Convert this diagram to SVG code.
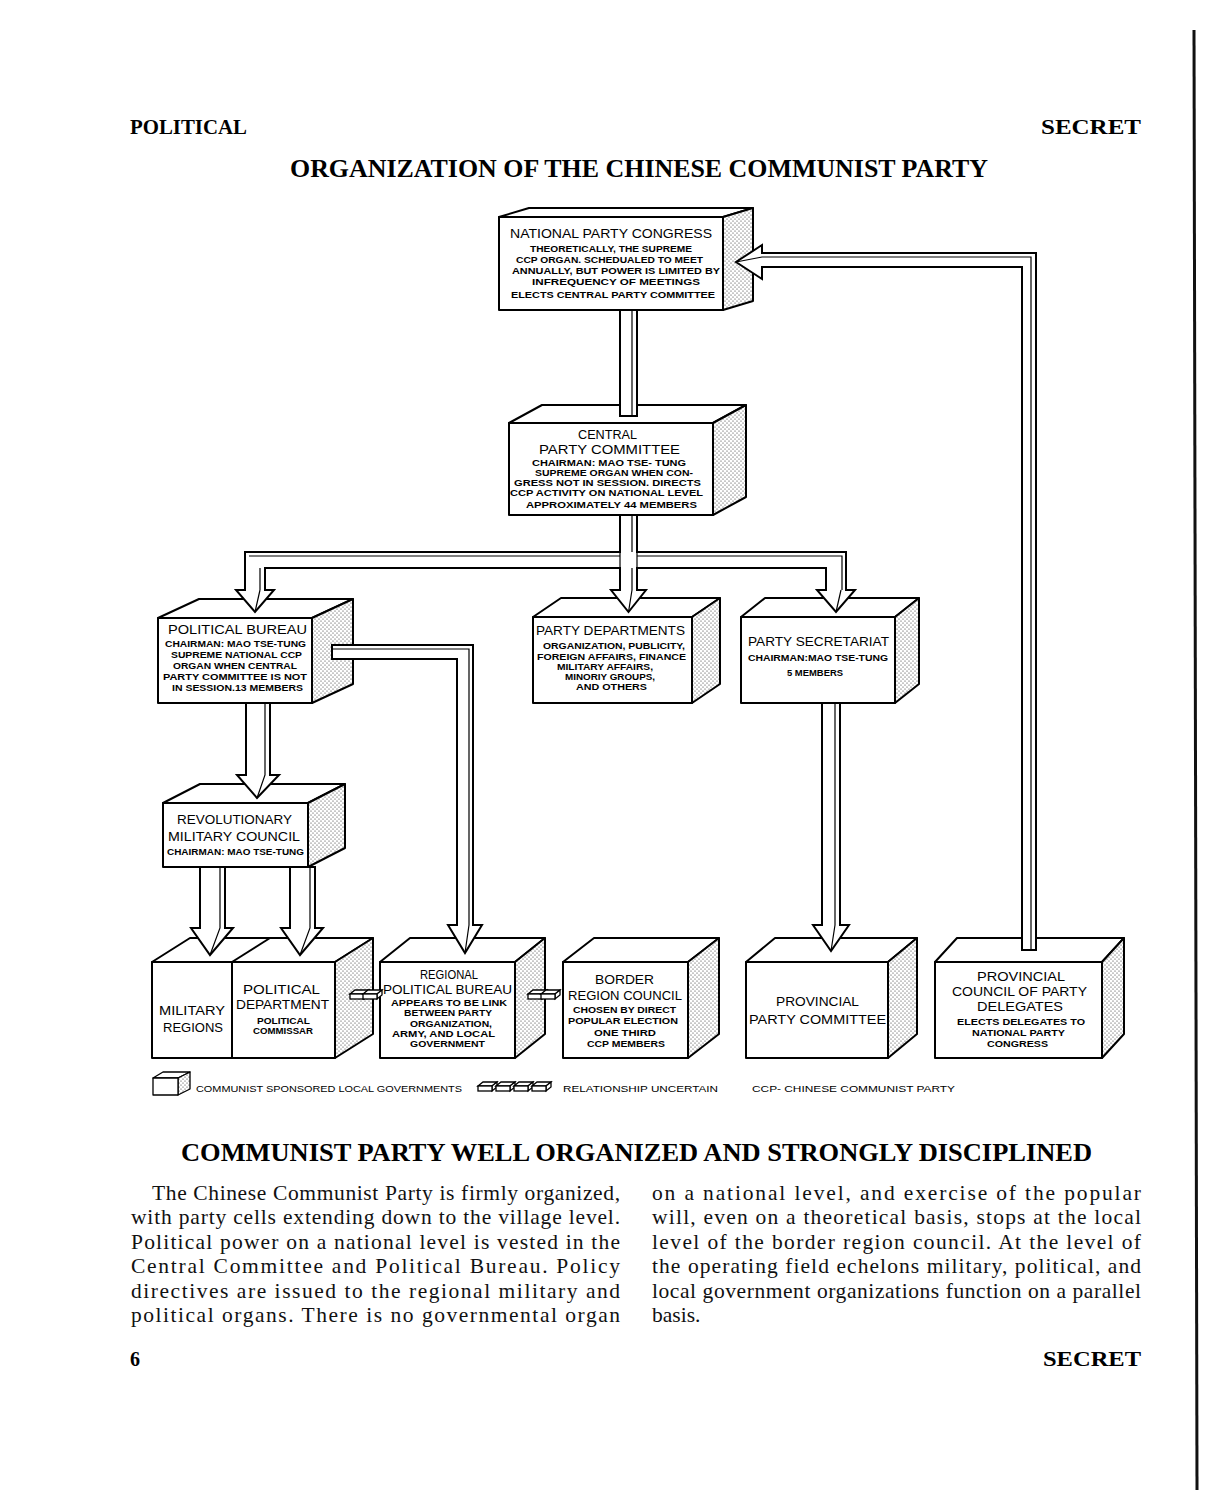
<svg xmlns="http://www.w3.org/2000/svg" width="1212" height="1505" viewBox="0 0 1212 1505">
<style>
.pg{fill:#fff}
.bx{stroke:#000;stroke-width:2;stroke-linejoin:round}
.fr{fill:#fff}
.sd{fill:url(#st)}
.t{font-family:"Liberation Sans",Arial,sans-serif;font-size:13.5px;fill:#000}
.s{font-family:"Liberation Sans",Arial,sans-serif;font-size:9px;font-weight:bold;fill:#000}
.lg{font-family:"Liberation Sans",Arial,sans-serif;font-size:9.5px;fill:#000}
.hd{font-family:"Liberation Serif","Times New Roman",serif;font-weight:bold;fill:#000}
.bd{font-family:"Liberation Serif","Times New Roman",serif;font-size:21.5px;fill:#111}
.cn{fill:#fff;stroke:#000;stroke-width:2;stroke-linejoin:miter}
.fc{fill:none;stroke:#000;stroke-width:1.2}
</style>
<defs>
<pattern id="st" width="4" height="4" patternUnits="userSpaceOnUse">
<rect width="4" height="4" fill="#fff"/>
<circle cx="1" cy="1" r="0.55" fill="#222"/>
<circle cx="3" cy="3" r="0.55" fill="#222"/>
</pattern>
<g id="slab">
<path d="M0,4 L5,0 H19 L14,4 Z" fill="#fff" stroke="#000" stroke-width="1.3"/>
<path d="M14,4 L19,0 V5 L14,9 Z" fill="#fff" stroke="#000" stroke-width="1.3"/>
<rect x="0" y="4" width="14" height="5" fill="#fff" stroke="#000" stroke-width="1.3"/>
</g>
</defs>
<rect class="pg" width="1212" height="1505"/>
<path d="M1194,30 L1197,1490" stroke="#111" stroke-width="3" fill="none"/>

<text class="hd" x="130" y="134" font-size="20" textLength="117" lengthAdjust="spacingAndGlyphs">POLITICAL</text>
<text class="hd" x="1041" y="134" font-size="20" textLength="100" lengthAdjust="spacingAndGlyphs">SECRET</text>
<text class="hd" x="290" y="177" font-size="26" textLength="698" lengthAdjust="spacingAndGlyphs">ORGANIZATION OF THE CHINESE COMMUNIST PARTY</text>

<g id="npc">
<polygon class="bx fr" points="499,217 529,208 753,208 723,217"/>
<polygon class="bx sd" points="723,217 753,208 753,301 723,310"/>
<rect class="bx fr" x="499" y="217" width="224" height="93"/>
<text class="t" x="510" y="238" textLength="202" lengthAdjust="spacingAndGlyphs">NATIONAL PARTY CONGRESS</text>
<text class="s" x="530" y="252" textLength="162" lengthAdjust="spacingAndGlyphs">THEORETICALLY, THE SUPREME</text>
<text class="s" x="516" y="263" textLength="187" lengthAdjust="spacingAndGlyphs">CCP ORGAN. SCHEDUALED TO MEET</text>
<text class="s" x="512" y="274" textLength="208" lengthAdjust="spacingAndGlyphs">ANNUALLY, BUT POWER IS LIMITED BY</text>
<text class="s" x="532" y="285" textLength="168" lengthAdjust="spacingAndGlyphs">INFREQUENCY OF MEETINGS</text>
<text class="s" x="511" y="298" textLength="204" lengthAdjust="spacingAndGlyphs">ELECTS CENTRAL PARTY COMMITTEE</text>
</g>

<g id="central">
<polygon class="bx fr" points="509,423 542,405 746,405 713,423"/>
<polygon class="bx sd" points="713,423 746,405 746,497 713,515"/>
<rect class="bx fr" x="509" y="423" width="204" height="92"/>
<text class="t" x="578" y="439" textLength="59" lengthAdjust="spacingAndGlyphs">CENTRAL</text>
<text class="t" x="539" y="454" textLength="141" lengthAdjust="spacingAndGlyphs">PARTY COMMITTEE</text>
<text class="s" x="532" y="466" textLength="154" lengthAdjust="spacingAndGlyphs">CHAIRMAN: MAO TSE- TUNG</text>
<text class="s" x="535" y="476" textLength="158" lengthAdjust="spacingAndGlyphs">SUPREME ORGAN WHEN CON-</text>
<text class="s" x="514" y="486" textLength="187" lengthAdjust="spacingAndGlyphs">GRESS NOT IN SESSION. DIRECTS</text>
<text class="s" x="510" y="496" textLength="193" lengthAdjust="spacingAndGlyphs">CCP ACTIVITY ON NATIONAL LEVEL</text>
<text class="s" x="526" y="508" textLength="171" lengthAdjust="spacingAndGlyphs">APPROXIMATELY 44 MEMBERS</text>
</g>

<g id="political-bureau">
<polygon class="bx fr" points="158,618 199,599 353,599 312,618"/>
<polygon class="bx sd" points="312,618 353,599 353,684 312,703"/>
<rect class="bx fr" x="158" y="618" width="154" height="85"/>
<text class="t" x="168" y="634" textLength="139" lengthAdjust="spacingAndGlyphs">POLITICAL BUREAU</text>
<text class="s" x="165" y="647" textLength="141" lengthAdjust="spacingAndGlyphs">CHAIRMAN: MAO TSE-TUNG</text>
<text class="s" x="171" y="658" textLength="131" lengthAdjust="spacingAndGlyphs">SUPREME NATIONAL CCP</text>
<text class="s" x="173" y="669" textLength="124" lengthAdjust="spacingAndGlyphs">ORGAN WHEN CENTRAL</text>
<text class="s" x="163" y="680" textLength="144" lengthAdjust="spacingAndGlyphs">PARTY COMMITTEE IS NOT</text>
<text class="s" x="172" y="691" textLength="131" lengthAdjust="spacingAndGlyphs">IN SESSION.13 MEMBERS</text>
</g>

<g id="party-departments">
<polygon class="bx fr" points="533,617 561,598 720,598 692,617"/>
<polygon class="bx sd" points="692,617 720,598 720,684 692,703"/>
<rect class="bx fr" x="533" y="617" width="159" height="86"/>
<text class="t" x="536" y="635" textLength="149" lengthAdjust="spacingAndGlyphs">PARTY DEPARTMENTS</text>
<text class="s" x="543" y="649" textLength="142" lengthAdjust="spacingAndGlyphs">ORGANIZATION, PUBLICITY,</text>
<text class="s" x="537" y="660" textLength="149" lengthAdjust="spacingAndGlyphs">FOREIGN AFFAIRS, FINANCE</text>
<text class="s" x="557" y="670" textLength="96" lengthAdjust="spacingAndGlyphs">MILITARY AFFAIRS,</text>
<text class="s" x="565" y="680" textLength="90" lengthAdjust="spacingAndGlyphs">MINORIY GROUPS,</text>
<text class="s" x="576" y="690" textLength="71" lengthAdjust="spacingAndGlyphs">AND OTHERS</text>
</g>

<g id="party-secretariat">
<polygon class="bx fr" points="741,617 765,598 919,598 895,617"/>
<polygon class="bx sd" points="895,617 919,598 919,684 895,703"/>
<rect class="bx fr" x="741" y="617" width="154" height="86"/>
<text class="t" x="748" y="646" textLength="141" lengthAdjust="spacingAndGlyphs">PARTY SECRETARIAT</text>
<text class="s" x="748" y="661" textLength="140" lengthAdjust="spacingAndGlyphs">CHAIRMAN:MAO TSE-TUNG</text>
<text class="s" x="787" y="676" textLength="56" lengthAdjust="spacingAndGlyphs">5 MEMBERS</text>
</g>

<g id="revolutionary-military-council">
<polygon class="bx fr" points="163,803 200,784 345,784 308,803"/>
<polygon class="bx sd" points="308,803 345,784 345,848 308,867"/>
<rect class="bx fr" x="163" y="803" width="145" height="64"/>
<text class="t" x="177" y="824" textLength="115" lengthAdjust="spacingAndGlyphs">REVOLUTIONARY</text>
<text class="t" x="168" y="841" textLength="132" lengthAdjust="spacingAndGlyphs">MILITARY COUNCIL</text>
<text class="s" x="167" y="855" textLength="137" lengthAdjust="spacingAndGlyphs">CHAIRMAN: MAO TSE-TUNG</text>
</g>

<g id="military-regions-political-department">
<polygon class="bx fr" points="152,962 190,938 373,938 335,962"/>
<line class="bx" x1="232" y1="962" x2="270" y2="938"/>
<polygon class="bx sd" points="335,962 373,938 373,1034 335,1058"/>
<rect class="bx fr" x="152" y="962" width="183" height="96"/>
<line class="bx" x1="232" y1="962" x2="232" y2="1058"/>
<text class="t" x="159" y="1015" textLength="66" lengthAdjust="spacingAndGlyphs">MILITARY</text>
<text class="t" x="163" y="1032" textLength="60" lengthAdjust="spacingAndGlyphs">REGIONS</text>
<text class="t" x="243" y="994" textLength="77" lengthAdjust="spacingAndGlyphs">POLITICAL</text>
<text class="t" x="236" y="1009" textLength="93" lengthAdjust="spacingAndGlyphs">DEPARTMENT</text>
<text class="s" x="257" y="1024" textLength="53" lengthAdjust="spacingAndGlyphs">POLITICAL</text>
<text class="s" x="253" y="1034" textLength="60" lengthAdjust="spacingAndGlyphs">COMMISSAR</text>
</g>

<g id="regional-political-bureau">
<polygon class="bx fr" points="380,962 410,938 545,938 515,962"/>
<polygon class="bx sd" points="515,962 545,938 545,1034 515,1058"/>
<rect class="bx fr" x="380" y="962" width="135" height="96"/>
<text class="t" x="420" y="979" textLength="58" lengthAdjust="spacingAndGlyphs">REGIONAL</text>
<text class="t" x="383" y="994" textLength="129" lengthAdjust="spacingAndGlyphs">POLITICAL BUREAU</text>
<text class="s" x="391" y="1006" textLength="116" lengthAdjust="spacingAndGlyphs">APPEARS TO BE LINK</text>
<text class="s" x="404" y="1016" textLength="88" lengthAdjust="spacingAndGlyphs">BETWEEN PARTY</text>
<text class="s" x="410" y="1027" textLength="82" lengthAdjust="spacingAndGlyphs">ORGANIZATION,</text>
<text class="s" x="392" y="1037" textLength="103" lengthAdjust="spacingAndGlyphs">ARMY, AND LOCAL</text>
<text class="s" x="410" y="1047" textLength="75" lengthAdjust="spacingAndGlyphs">GOVERNMENT</text>
</g>

<g id="border-region-council">
<polygon class="bx fr" points="563,962 594,938 719,938 688,962"/>
<polygon class="bx sd" points="688,962 719,938 719,1034 688,1058"/>
<rect class="bx fr" x="563" y="962" width="125" height="96"/>
<text class="t" x="595" y="984" textLength="59" lengthAdjust="spacingAndGlyphs">BORDER</text>
<text class="t" x="568" y="1000" textLength="114" lengthAdjust="spacingAndGlyphs">REGION COUNCIL</text>
<text class="s" x="573" y="1013" textLength="103" lengthAdjust="spacingAndGlyphs">CHOSEN BY DIRECT</text>
<text class="s" x="568" y="1024" textLength="110" lengthAdjust="spacingAndGlyphs">POPULAR ELECTION</text>
<text class="s" x="594" y="1036" textLength="62" lengthAdjust="spacingAndGlyphs">ONE THIRD</text>
<text class="s" x="587" y="1047" textLength="78" lengthAdjust="spacingAndGlyphs">CCP MEMBERS</text>
</g>

<g id="provincial-party-committee">
<polygon class="bx fr" points="746,962 775,938 917,938 888,962"/>
<polygon class="bx sd" points="888,962 917,938 917,1034 888,1058"/>
<rect class="bx fr" x="746" y="962" width="142" height="96"/>
<text class="t" x="776" y="1006" textLength="83" lengthAdjust="spacingAndGlyphs">PROVINCIAL</text>
<text class="t" x="749" y="1024" textLength="137" lengthAdjust="spacingAndGlyphs">PARTY COMMITTEE</text>
</g>

<g id="provincial-council-of-party-delegates">
<polygon class="bx fr" points="935,962 957,938 1124,938 1102,962"/>
<polygon class="bx sd" points="1102,962 1124,938 1124,1034 1102,1058"/>
<rect class="bx fr" x="935" y="962" width="167" height="96"/>
<text class="t" x="977" y="981" textLength="88" lengthAdjust="spacingAndGlyphs">PROVINCIAL</text>
<text class="t" x="952" y="996" textLength="135" lengthAdjust="spacingAndGlyphs">COUNCIL OF PARTY</text>
<text class="t" x="977" y="1011" textLength="86" lengthAdjust="spacingAndGlyphs">DELEGATES</text>
<text class="s" x="957" y="1025" textLength="128" lengthAdjust="spacingAndGlyphs">ELECTS DELEGATES TO</text>
<text class="s" x="972" y="1036" textLength="93" lengthAdjust="spacingAndGlyphs">NATIONAL PARTY</text>
<text class="s" x="987" y="1047" textLength="61" lengthAdjust="spacingAndGlyphs">CONGRESS</text>
</g>

<g id="connectors">
<path class="cn" d="M620,310 V416 H637 V310 Z"/>
<line class="fc" x1="632" y1="310" x2="632" y2="416"/>

<path class="cn" d="M620,515 V552 H245 V590 H236 L255,612 L274,590 H265 V568 H620 V590 H611 L628.5,612 L646,590 H637 V568 H826 V590 H817 L836,612 L855,590 H846 V552 H637 V515 Z"/>
<path class="fc" d="M620,552 V568 M637,552 V568"/>
<path class="fc" d="M249,556 H620 M637,556 H842 V590 M632,515 V552 M632,568 V590 M260,568 V590 M260,590 L255,612 M632,590 L628.5,612 M841,590 L836,612"/>

<path class="cn" d="M246,703 V775 H237 L257,798 L279,775 H270 V703 Z"/>
<path class="fc" d="M265,703 V775 L257,798"/>

<path class="cn" d="M200,867 V928 H191 L210,955 L233,928 H225 V867 Z"/>
<path class="fc" d="M220,867 V928 L210,955"/>
<path class="cn" d="M290,867 V928 H281 L300,955 L323,928 H315 V867 Z"/>
<path class="fc" d="M310,867 V928 L300,955"/>

<path class="cn" d="M332,645 H473 V925 H482 L465,953 L448,925 H457 V659 H332 Z"/>
<path class="fc" d="M332,649 H469 V925 L465,953"/>

<path class="cn" d="M822,703 V925 H813 L831,951 L849,925 H840 V703 Z"/>
<path class="fc" d="M835,703 V925 L831,951"/>

<path class="cn" d="M1036,950 V253 H762 V245 L736,262 L762,279 V267 H1022 V950 Z"/>
<path class="fc" d="M1031,950 V257 H762 L736,262"/>

<use href="#slab" x="350" y="990"/>
<use href="#slab" x="363" y="990"/>
<use href="#slab" x="528" y="990"/>
<use href="#slab" x="541" y="990"/>
</g>

<g id="legend">
<polygon class="bx fr" style="stroke-width:1.3" points="153,1078 163,1072 190,1072 178,1078"/>
<polygon class="bx sd" style="stroke-width:1.3" points="178,1078 190,1072 190,1089 178,1095"/>
<rect class="bx fr" style="stroke-width:1.3" x="153" y="1078" width="25" height="17"/>
<text class="lg" x="196" y="1092" textLength="266" lengthAdjust="spacingAndGlyphs">COMMUNIST SPONSORED LOCAL GOVERNMENTS</text>
<use href="#slab" x="478" y="1082"/>
<use href="#slab" x="496" y="1082"/>
<use href="#slab" x="514" y="1082"/>
<use href="#slab" x="532" y="1082"/>
<text class="lg" x="563" y="1092" textLength="155" lengthAdjust="spacingAndGlyphs">RELATIONSHIP UNCERTAIN</text>
<text class="lg" x="752" y="1092" textLength="203" lengthAdjust="spacingAndGlyphs">CCP- CHINESE COMMUNIST PARTY</text>
</g>

<text class="hd" x="181" y="1161" font-size="26" textLength="911" lengthAdjust="spacingAndGlyphs">COMMUNIST PARTY WELL ORGANIZED AND STRONGLY DISCIPLINED</text>

<g id="body">
<text class="bd" x="152" y="1200" textLength="468" lengthAdjust="spacing">The Chinese Communist Party is firmly organized,</text>
<text class="bd" x="131" y="1224.4" textLength="489" lengthAdjust="spacing">with party cells extending down to the village level.</text>
<text class="bd" x="131" y="1248.8" textLength="489" lengthAdjust="spacing">Political power on a national level is vested in the</text>
<text class="bd" x="131" y="1273.2" textLength="489" lengthAdjust="spacing">Central Committee and Political Bureau.  Policy</text>
<text class="bd" x="131" y="1297.6" textLength="489" lengthAdjust="spacing">directives are issued to the regional military and</text>
<text class="bd" x="131" y="1322" textLength="489" lengthAdjust="spacing">political organs.  There is no governmental organ</text>
<text class="bd" x="652" y="1200" textLength="489" lengthAdjust="spacing">on a national level, and exercise of the popular</text>
<text class="bd" x="652" y="1224.4" textLength="489" lengthAdjust="spacing">will, even on a theoretical basis, stops at the local</text>
<text class="bd" x="652" y="1248.8" textLength="489" lengthAdjust="spacing">level of the border region council.  At the level of</text>
<text class="bd" x="652" y="1273.2" textLength="489" lengthAdjust="spacing">the operating field echelons military, political, and</text>
<text class="bd" x="652" y="1297.6" textLength="489" lengthAdjust="spacing">local government organizations function on a parallel</text>
<text class="bd" x="652" y="1322">basis.</text>
</g>

<text class="hd" x="130" y="1366" font-size="20">6</text>
<text class="hd" x="1043" y="1366" font-size="20" textLength="98" lengthAdjust="spacingAndGlyphs">SECRET</text>
</svg>
